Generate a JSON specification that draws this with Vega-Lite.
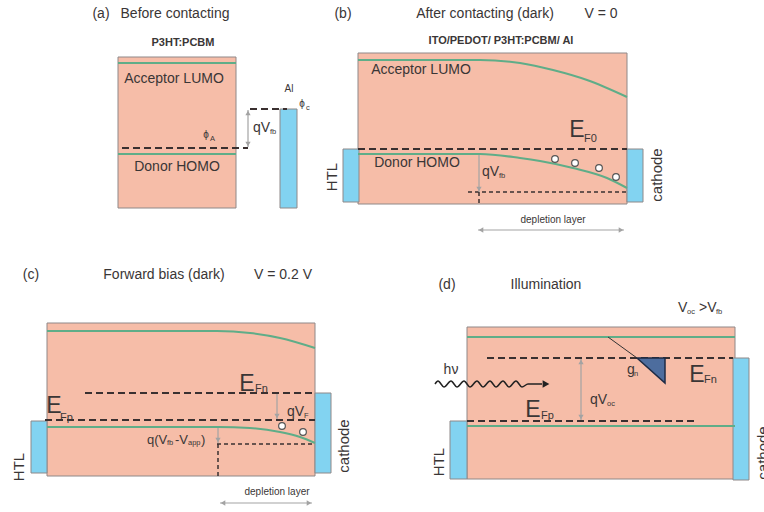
{
  "$schema": "https://vega.github.io/schema/vega-lite/v6.json",
  "width": 764,
  "height": 512,
  "autosize": {"type": "none"},
  "padding": 0,
  "background": "white",
  "config": {"view": {"stroke": null}, "axis": {"disable": true}, "text": {"font": "Liberation Sans", "color": "#3a3636"}},
  "datasets": {
    "boxes": [
      {"kind": "organic", "x": 118, "x2": 236, "y": 57, "y2": 208},
      {"kind": "electrode", "x": 280, "x2": 297, "y": 109, "y2": 208},
      {"kind": "organic", "x": 358, "x2": 627, "y": 53, "y2": 204},
      {"kind": "electrode", "x": 343, "x2": 359, "y": 149, "y2": 202},
      {"kind": "electrode", "x": 627, "x2": 643, "y": 149, "y2": 202},
      {"kind": "organic", "x": 47, "x2": 315, "y": 323, "y2": 476},
      {"kind": "electrode", "x": 31, "x2": 47, "y": 421, "y2": 473},
      {"kind": "electrode", "x": 315, "x2": 331, "y": 393, "y2": 473},
      {"kind": "organic", "x": 467, "x2": 735, "y": 327, "y2": 479},
      {"kind": "electrode", "x": 450, "x2": 467, "y": 421, "y2": 479},
      {"kind": "electrode", "x": 733, "x2": 749, "y": 358, "y2": 480}
    ],
    "bands": [
      {"id": "a-lumo", "x": 118, "y": 63}, {"id": "a-lumo", "x": 236, "y": 63},
      {"id": "a-homo", "x": 118, "y": 154}, {"id": "a-homo", "x": 236, "y": 154},
      {"id": "b-lumo", "x": 358, "y": 60}, {"id": "b-lumo", "x": 480, "y": 60}, {"id": "b-lumo", "x": 520, "y": 63}, {"id": "b-lumo", "x": 553, "y": 70}, {"id": "b-lumo", "x": 587, "y": 80}, {"id": "b-lumo", "x": 627, "y": 97},
      {"id": "b-homo", "x": 358, "y": 154}, {"id": "b-homo", "x": 480, "y": 154}, {"id": "b-homo", "x": 520, "y": 158}, {"id": "b-homo", "x": 540, "y": 161}, {"id": "b-homo", "x": 573, "y": 168}, {"id": "b-homo", "x": 607, "y": 178}, {"id": "b-homo", "x": 627, "y": 188},
      {"id": "c-lumo", "x": 47, "y": 331}, {"id": "c-lumo", "x": 217, "y": 331}, {"id": "c-lumo", "x": 250, "y": 333}, {"id": "c-lumo", "x": 280, "y": 338}, {"id": "c-lumo", "x": 315, "y": 348},
      {"id": "c-homo", "x": 47, "y": 427}, {"id": "c-homo", "x": 218, "y": 427}, {"id": "c-homo", "x": 250, "y": 428}, {"id": "c-homo", "x": 280, "y": 432}, {"id": "c-homo", "x": 300, "y": 437}, {"id": "c-homo", "x": 315, "y": 443},
      {"id": "d-lumo", "x": 467, "y": 337}, {"id": "d-lumo", "x": 735, "y": 337},
      {"id": "d-homo", "x": 467, "y": 426}, {"id": "d-homo", "x": 735, "y": 426}
    ],
    "levels": [
      {"dash": "long", "x": 122, "x2": 248, "y": 148, "y2": 148},
      {"dash": "long", "x": 250, "x2": 287, "y": 109, "y2": 109},
      {"dash": "long", "x": 358, "x2": 627, "y": 149, "y2": 149},
      {"dash": "short", "x": 468, "x2": 627, "y": 192, "y2": 192},
      {"dash": "short", "x": 479, "x2": 479, "y": 192, "y2": 204},
      {"dash": "long", "x": 85, "x2": 315, "y": 393, "y2": 393},
      {"dash": "long", "x": 45, "x2": 315, "y": 420, "y2": 420},
      {"dash": "short", "x": 217, "x2": 315, "y": 444, "y2": 444},
      {"dash": "short", "x": 218, "x2": 218, "y": 444, "y2": 478},
      {"dash": "long", "x": 487, "x2": 733, "y": 358, "y2": 358},
      {"dash": "long", "x": 467, "x2": 695, "y": 421, "y2": 421}
    ],
    "shafts": [
      {"x": 248, "x2": 248, "y": 110, "y2": 147},
      {"x": 479, "x2": 479, "y": 155, "y2": 192},
      {"x": 478, "x2": 624, "y": 230, "y2": 230},
      {"x": 277, "x2": 277, "y": 394, "y2": 419},
      {"x": 218, "x2": 218, "y": 428, "y2": 443},
      {"x": 220, "x2": 312, "y": 503, "y2": 503},
      {"x": 581, "x2": 581, "y": 359, "y2": 420}
    ],
    "heads": [
      {"dir": "up", "x": 248, "y": 113}, {"dir": "down", "x": 248, "y": 144},
      {"dir": "down", "x": 479, "y": 189},
      {"dir": "left", "x": 481, "y": 230}, {"dir": "right", "x": 621, "y": 230},
      {"dir": "down", "x": 277, "y": 416},
      {"dir": "down", "x": 218, "y": 440},
      {"dir": "left", "x": 223, "y": 503}, {"dir": "right", "x": 309, "y": 503},
      {"dir": "up", "x": 581, "y": 362}, {"dir": "down", "x": 581, "y": 417}
    ],
    "wave": [
      {"x": 435, "y": 384}, {"x": 438, "y": 381}, {"x": 444, "y": 387}, {"x": 451, "y": 381}, {"x": 457, "y": 387},
      {"x": 464, "y": 381}, {"x": 470, "y": 387}, {"x": 477, "y": 381}, {"x": 483, "y": 387}, {"x": 490, "y": 381},
      {"x": 496, "y": 387}, {"x": 503, "y": 381}, {"x": 509, "y": 387}, {"x": 516, "y": 381}, {"x": 522, "y": 387},
      {"x": 528, "y": 384}, {"x": 542, "y": 384}
    ],
    "triangle": [
      {"x": 637, "y": 358, "y2": 358},
      {"x": 665, "y": 358, "y2": 383}
    ],
    "holes": [
      {"x": 555, "y": 159}, {"x": 575, "y": 163}, {"x": 599, "y": 168}, {"x": 616, "y": 177},
      {"x": 282, "y": 426}, {"x": 303, "y": 432}
    ],
    "labels": [
      {"role": "title", "x": 101, "y": 14, "text": "(a)"},
      {"role": "title", "x": 175, "y": 14, "text": "Before contacting"},
      {"role": "title", "x": 343, "y": 14, "text": "(b)"},
      {"role": "title", "x": 485, "y": 14, "text": "After contacting (dark)"},
      {"role": "title", "x": 601, "y": 14, "text": "V = 0"},
      {"role": "title", "x": 31, "y": 275, "text": "(c)"},
      {"role": "title", "x": 164, "y": 275, "text": "Forward bias (dark)"},
      {"role": "title", "x": 283, "y": 275, "text": "V = 0.2 V"},
      {"role": "title", "x": 447, "y": 285, "text": "(d)"},
      {"role": "title", "x": 546, "y": 285, "text": "Illumination"},
      {"role": "bold", "x": 183, "y": 43, "text": "P3HT:PCBM"},
      {"role": "bold", "x": 501, "y": 41, "text": "ITO/PEDOT/ P3HT:PCBM/ Al"},
      {"role": "band", "x": 174, "y": 79, "text": "Acceptor LUMO"},
      {"role": "band", "x": 177, "y": 167, "text": "Donor HOMO"},
      {"role": "band", "x": 421, "y": 70, "text": "Acceptor LUMO"},
      {"role": "band", "x": 417, "y": 163, "text": "Donor HOMO"},
      {"role": "band", "x": 451, "y": 370, "text": "hν"},
      {"role": "side", "x": 332, "y": 177, "text": "HTL"},
      {"role": "side", "x": 657, "y": 175, "text": "cathode"},
      {"role": "side", "x": 19, "y": 467, "text": "HTL"},
      {"role": "side", "x": 344, "y": 446, "text": "cathode"},
      {"role": "side", "x": 439, "y": 462, "text": "HTL"},
      {"role": "side", "x": 763, "y": 453, "text": "cathode"},
      {"role": "big", "x": 577, "y": 130, "text": "E"},
      {"role": "big", "x": 247, "y": 384, "text": "E"},
      {"role": "big", "x": 54, "y": 406, "text": "E"},
      {"role": "big", "x": 697, "y": 375, "text": "E"},
      {"role": "big", "x": 533, "y": 410, "text": "E"},
      {"role": "esub", "x": 584, "y": 139, "text": "F0"},
      {"role": "esub", "x": 255, "y": 389, "text": "Fn"},
      {"role": "esub", "x": 60, "y": 418, "text": "Fp"},
      {"role": "esub", "x": 704, "y": 380, "text": "Fn"},
      {"role": "esub", "x": 541, "y": 416, "text": "Fp"},
      {"role": "mid", "x": 253, "y": 128, "text": "qV"},
      {"role": "mid", "x": 482, "y": 172, "text": "qV"},
      {"role": "mid", "x": 287, "y": 412, "text": "qV"},
      {"role": "mid", "x": 590, "y": 400, "text": "qV"},
      {"role": "mid", "x": 678, "y": 308, "text": "V"},
      {"role": "mid", "x": 699, "y": 308, "text": ">V"},
      {"role": "mid", "x": 627, "y": 370, "text": "g"},
      {"role": "midsmall", "x": 147, "y": 440, "text": "q(V"},
      {"role": "midsmall", "x": 175, "y": 440, "text": "-V"},
      {"role": "midsmall", "x": 201, "y": 440, "text": ")"},
      {"role": "sub", "x": 270, "y": 132, "text": "fb"},
      {"role": "sub", "x": 499, "y": 176, "text": "fb"},
      {"role": "sub", "x": 304, "y": 416, "text": "F"},
      {"role": "sub", "x": 607, "y": 404, "text": "oc"},
      {"role": "sub", "x": 167, "y": 443, "text": "fb"},
      {"role": "sub", "x": 188, "y": 443, "text": "app"},
      {"role": "sub", "x": 687, "y": 312, "text": "oc"},
      {"role": "sub", "x": 716, "y": 312, "text": "fb"},
      {"role": "sub", "x": 634, "y": 374, "text": "n"},
      {"role": "sub", "x": 210, "y": 139, "text": "A"},
      {"role": "sub", "x": 306, "y": 108, "text": "c"},
      {"role": "small", "x": 206, "y": 135, "text": "ϕ"},
      {"role": "small", "x": 302, "y": 104, "text": "ϕ"},
      {"role": "small", "x": 289, "y": 89, "text": "Al"},
      {"role": "small", "x": 553, "y": 220, "text": "depletion layer"},
      {"role": "small", "x": 277, "y": 492, "text": "depletion layer"}
    ]
  },
  "layer": [
    {
      "data": {"name": "boxes"},
      "mark": {"type": "rect", "stroke": "#8f8888", "strokeWidth": 1},
      "encoding": {
        "x": {"field": "x", "type": "quantitative", "scale": {"domain": [0, 764], "nice": false, "zero": false}},
        "x2": {"field": "x2"},
        "y": {"field": "y", "type": "quantitative", "scale": {"domain": [0, 512], "nice": false, "zero": false, "reverse": true}},
        "y2": {"field": "y2"},
        "color": {"field": "kind", "type": "nominal", "scale": {"domain": ["organic", "electrode"], "range": ["#f6bda8", "#82d3f1"]}, "legend": null}
      }
    },
    {
      "data": {"name": "bands"},
      "mark": {"type": "line", "color": "#5fad88", "strokeWidth": 2, "interpolate": "monotone"},
      "encoding": {
        "x": {"field": "x", "type": "quantitative"},
        "y": {"field": "y", "type": "quantitative"},
        "detail": {"field": "id"}
      }
    },
    {
      "data": {"name": "levels"},
      "mark": {"type": "rule", "color": "#3a3030"},
      "encoding": {
        "x": {"field": "x", "type": "quantitative"},
        "x2": {"field": "x2"},
        "y": {"field": "y", "type": "quantitative"},
        "y2": {"field": "y2"},
        "strokeDash": {"field": "dash", "type": "nominal", "scale": {"domain": ["long", "short"], "range": [[7, 4], [4, 3]]}, "legend": null},
        "strokeWidth": {"field": "dash", "type": "ordinal", "scale": {"domain": ["long", "short"], "range": [2, 1.5]}, "legend": null}
      }
    },
    {
      "data": {"name": "shafts"},
      "mark": {"type": "rule", "color": "#a3a3a3", "strokeWidth": 1.2},
      "encoding": {
        "x": {"field": "x", "type": "quantitative"},
        "x2": {"field": "x2"},
        "y": {"field": "y", "type": "quantitative"},
        "y2": {"field": "y2"}
      }
    },
    {
      "data": {"name": "heads"},
      "mark": {"type": "point", "filled": true, "color": "#a3a3a3", "size": 28, "opacity": 1},
      "encoding": {
        "x": {"field": "x", "type": "quantitative"},
        "y": {"field": "y", "type": "quantitative"},
        "shape": {"field": "dir", "type": "nominal", "scale": {"domain": ["up", "down", "left", "right"], "range": ["triangle-up", "triangle-down", "triangle-left", "triangle-right"]}, "legend": null}
      }
    },
    {
      "data": {"name": "wave"},
      "mark": {"type": "line", "color": "#222222", "strokeWidth": 1.5, "interpolate": "monotone"},
      "encoding": {
        "x": {"field": "x", "type": "quantitative"},
        "y": {"field": "y", "type": "quantitative"}
      }
    },
    {
      "data": {"values": [{"x": 546, "y": 384}]},
      "mark": {"type": "point", "shape": "triangle-right", "filled": true, "color": "#222222", "size": 60, "opacity": 1},
      "encoding": {
        "x": {"field": "x", "type": "quantitative"},
        "y": {"field": "y", "type": "quantitative"}
      }
    },
    {
      "data": {"name": "triangle"},
      "mark": {"type": "area", "color": "#4d6d9e", "stroke": "#1e2b45", "strokeWidth": 1.5, "opacity": 1},
      "encoding": {
        "x": {"field": "x", "type": "quantitative"},
        "y": {"field": "y", "type": "quantitative"},
        "y2": {"field": "y2"}
      }
    },
    {
      "data": {"values": [{"x": 608, "y": 337, "x2": 637, "y2": 358}]},
      "mark": {"type": "rule", "color": "#333333", "strokeWidth": 1},
      "encoding": {
        "x": {"field": "x", "type": "quantitative"},
        "x2": {"field": "x2"},
        "y": {"field": "y", "type": "quantitative"},
        "y2": {"field": "y2"}
      }
    },
    {
      "data": {"name": "holes"},
      "mark": {"type": "point", "shape": "circle", "filled": true, "fill": "white", "stroke": "#555555", "strokeWidth": 1.2, "size": 45, "opacity": 1},
      "encoding": {
        "x": {"field": "x", "type": "quantitative"},
        "y": {"field": "y", "type": "quantitative"}
      }
    },
    {
      "data": {"name": "labels"},
      "transform": [{"filter": "datum.role === 'title'"}],
      "mark": {"type": "text", "fontSize": 14, "align": "center", "baseline": "middle"},
      "encoding": {"x": {"field": "x", "type": "quantitative"}, "y": {"field": "y", "type": "quantitative"}, "text": {"field": "text"}}
    },
    {
      "data": {"name": "labels"},
      "transform": [{"filter": "datum.role === 'bold'"}],
      "mark": {"type": "text", "fontSize": 11, "fontWeight": "bold", "align": "center", "baseline": "middle"},
      "encoding": {"x": {"field": "x", "type": "quantitative"}, "y": {"field": "y", "type": "quantitative"}, "text": {"field": "text"}}
    },
    {
      "data": {"name": "labels"},
      "transform": [{"filter": "datum.role === 'band'"}],
      "mark": {"type": "text", "fontSize": 14, "align": "center", "baseline": "middle"},
      "encoding": {"x": {"field": "x", "type": "quantitative"}, "y": {"field": "y", "type": "quantitative"}, "text": {"field": "text"}}
    },
    {
      "data": {"name": "labels"},
      "transform": [{"filter": "datum.role === 'side'"}],
      "mark": {"type": "text", "fontSize": 15, "angle": 270, "align": "center", "baseline": "middle"},
      "encoding": {"x": {"field": "x", "type": "quantitative"}, "y": {"field": "y", "type": "quantitative"}, "text": {"field": "text"}}
    },
    {
      "data": {"name": "labels"},
      "transform": [{"filter": "datum.role === 'big'"}],
      "mark": {"type": "text", "fontSize": 23, "align": "center", "baseline": "middle"},
      "encoding": {"x": {"field": "x", "type": "quantitative"}, "y": {"field": "y", "type": "quantitative"}, "text": {"field": "text"}}
    },
    {
      "data": {"name": "labels"},
      "transform": [{"filter": "datum.role === 'esub'"}],
      "mark": {"type": "text", "fontSize": 11, "align": "left", "baseline": "middle"},
      "encoding": {"x": {"field": "x", "type": "quantitative"}, "y": {"field": "y", "type": "quantitative"}, "text": {"field": "text"}}
    },
    {
      "data": {"name": "labels"},
      "transform": [{"filter": "datum.role === 'mid'"}],
      "mark": {"type": "text", "fontSize": 14, "align": "left", "baseline": "middle"},
      "encoding": {"x": {"field": "x", "type": "quantitative"}, "y": {"field": "y", "type": "quantitative"}, "text": {"field": "text"}}
    },
    {
      "data": {"name": "labels"},
      "transform": [{"filter": "datum.role === 'midsmall'"}],
      "mark": {"type": "text", "fontSize": 13, "align": "left", "baseline": "middle"},
      "encoding": {"x": {"field": "x", "type": "quantitative"}, "y": {"field": "y", "type": "quantitative"}, "text": {"field": "text"}}
    },
    {
      "data": {"name": "labels"},
      "transform": [{"filter": "datum.role === 'sub'"}],
      "mark": {"type": "text", "fontSize": 7.5, "align": "left", "baseline": "middle"},
      "encoding": {"x": {"field": "x", "type": "quantitative"}, "y": {"field": "y", "type": "quantitative"}, "text": {"field": "text"}}
    },
    {
      "data": {"name": "labels"},
      "transform": [{"filter": "datum.role === 'small'"}],
      "mark": {"type": "text", "fontSize": 10, "align": "center", "baseline": "middle"},
      "encoding": {"x": {"field": "x", "type": "quantitative"}, "y": {"field": "y", "type": "quantitative"}, "text": {"field": "text"}}
    }
  ]
}
